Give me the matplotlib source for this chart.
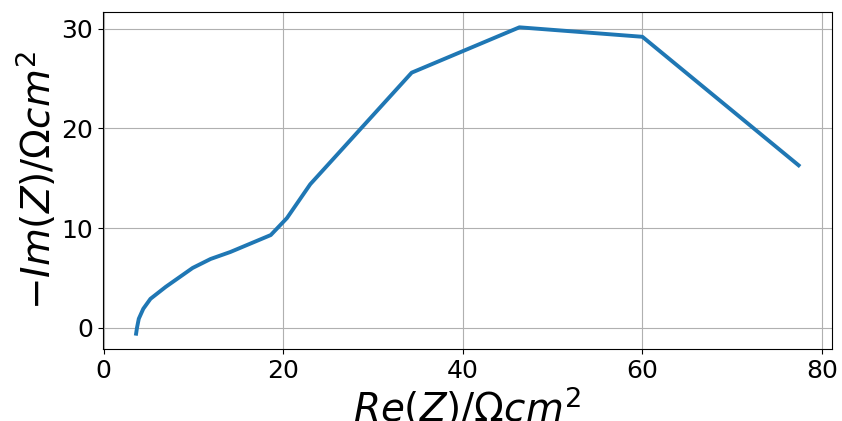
import matplotlib
matplotlib.use("Agg")
import matplotlib.pyplot as plt

re_z = [3.6, 3.7, 3.9, 4.4, 5.2, 6.9, 9.9, 11.9, 14.1, 18.6, 20.4, 23.0, 34.3, 46.3, 60.0, 77.4]
im_z = [-0.6, 0.0, 0.9, 1.9, 2.9, 4.1, 6.0, 6.9, 7.6, 9.3, 11.0, 14.4, 25.6, 30.15, 29.2, 16.3]

fig = plt.figure(figsize=(8.42, 4.21), dpi=100)
ax = fig.add_axes([0.1223, 0.171, 0.8655, 0.8005])
ax.plot(re_z, im_z, color="#1f77b4", lw=2.8)
ax.grid(True)
ax.set_xticks([0, 20, 40, 60, 80])
ax.set_yticks([0, 10, 20, 30])
ax.tick_params(labelsize=18)
ax.set_xlabel(r"$Re(Z)/\Omega cm^2$", fontsize=28, labelpad=2)
ax.set_ylabel(r"$-Im(Z)/\Omega cm^2$", fontsize=28, labelpad=2)
fig.savefig("out.png", dpi=100)
